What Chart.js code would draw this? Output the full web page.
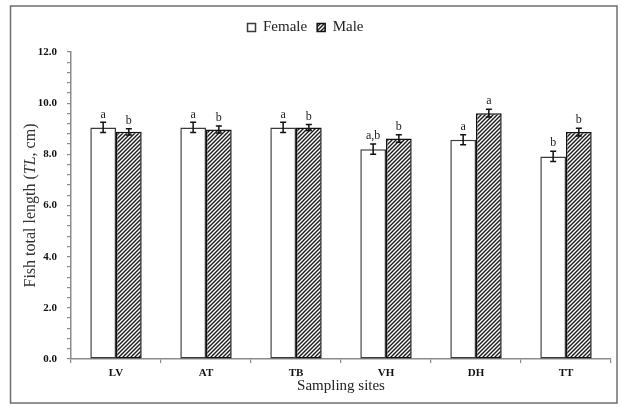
<!DOCTYPE html>
<html>
<head>
<meta charset="utf-8">
<script src="https://cdn.jsdelivr.net/npm/chart.js@4"></script>
<style>
  html, body { margin: 0; padding: 0; background: #fff; }
</style>
</head>
<body>
<canvas id="c" width="623" height="406"></canvas>
<script>
// ---- data ----
const sites = ["LV", "AT", "TB", "VH", "DH", "TT"];
const femaleMean = [9.05, 9.05, 9.05, 8.20, 8.57, 7.92];
const femaleErr  = [0.20, 0.20, 0.20, 0.20, 0.20, 0.20];
const maleMean   = [8.88, 8.97, 9.05, 8.62, 9.61, 8.87];
const maleErr    = [0.12, 0.14, 0.12, 0.15, 0.15, 0.15];
const femaleLetters = ["a", "a", "a", "a,b", "a", "b"];
const maleLetters   = ["b", "b", "b", "b", "a", "b"];
const errors  = [femaleErr, maleErr];
const letters = [femaleLetters, maleLetters];

const SERIF = "'Liberation Serif', 'Times New Roman', serif";

// diagonal hatch used for the male bars
function hatch() {
  let c = document.createElement("canvas");
  c.width = 4; c.height = 4;
  let g = c.getContext("2d");
  g.fillStyle = "#fff";
  g.fillRect(0, 0, 4, 4);
  g.strokeStyle = "#1a1a1a";
  g.lineWidth = 1.4;
  g.beginPath();
  g.moveTo(0, 4); g.lineTo(4, 0);
  g.moveTo(-1, 1); g.lineTo(1, -1);
  g.moveTo(3, 5); g.lineTo(5, 3);
  g.stroke();
  return g.createPattern(c, "repeat");
}

// outer frame of the figure
const framePlugin = {
  id: "frame",
  beforeDraw(chart) {
    let ctx = chart.ctx;
    ctx.save();
    ctx.fillStyle = "#fff";
    ctx.fillRect(0, 0, chart.width, chart.height);
    ctx.strokeStyle = "#6e6e6e";
    ctx.lineWidth = 1.5;
    ctx.strokeRect(10.5, 6, 606.5, 397);
    ctx.restore();
  }
};

// error bars + significance letters
const errorPlugin = {
  id: "errors",
  afterDatasetsDraw(chart) {
    let ctx = chart.ctx;
    let y = chart.scales.y;
    ctx.save();
    chart.data.datasets.forEach((ds, di) => {
      let meta = chart.getDatasetMeta(di);
      meta.data.forEach((bar, i) => {
        let v = ds.data[i];
        let e = errors[di][i];
        let top = y.getPixelForValue(v + e);
        let bot = y.getPixelForValue(v - e);
        let x = bar.x;
        ctx.strokeStyle = "#111";
        ctx.lineWidth = 1.5;
        ctx.beginPath();
        ctx.moveTo(x, top); ctx.lineTo(x, bot);
        ctx.moveTo(x - 3, top); ctx.lineTo(x + 3, top);
        ctx.moveTo(x - 3, bot); ctx.lineTo(x + 3, bot);
        ctx.stroke();

        ctx.fillStyle = "#222";
        ctx.font = "12px " + SERIF;
        ctx.textAlign = "center";
        ctx.textBaseline = "bottom";
        ctx.fillText(letters[di][i], x, top - 2);
      });
    });
    ctx.restore();
  }
};

// y axis title with italic TL
const yTitlePlugin = {
  id: "yTitle",
  afterDraw(chart) {
    let ctx = chart.ctx;
    let area = chart.chartArea;
    let parts = [
      ["Fish total length (", "16px " + SERIF],
      ["TL", "italic 16px " + SERIF],
      [", cm)", "16px " + SERIF]
    ];
    ctx.save();
    let total = 0;
    parts.forEach(p => { ctx.font = p[1]; total += ctx.measureText(p[0]).width; });
    ctx.translate(31, (area.top + area.bottom) / 2);
    ctx.rotate(-Math.PI / 2);
    ctx.fillStyle = "#333";
    ctx.textBaseline = "middle";
    ctx.textAlign = "left";
    let x = -total / 2;
    parts.forEach(p => {
      ctx.font = p[1];
      ctx.fillText(p[0], x, 0);
      x += ctx.measureText(p[0]).width;
    });
    ctx.restore();
  }
};

// push the plot down a bit under the legend
const legendGap = {
  id: "legendGap",
  beforeInit(chart) {
    let fit = chart.legend.fit;
    chart.legend.fit = function () {
      fit.bind(chart.legend)();
      this.height += 7;
    };
  }
};

let ctx = document.getElementById("c").getContext("2d");

let chart = new Chart(ctx, {
  type: "bar",
  data: {
    labels: sites,
    datasets: [
      {
        label: "Female",
        data: femaleMean,
        backgroundColor: "#fff",
        borderColor: "#3a3a3a",
        borderWidth: 1.5,
        borderSkipped: false
      },
      {
        label: "Male",
        data: maleMean,
        backgroundColor: hatch(),
        borderColor: "#111",
        borderWidth: 1.5,
        borderSkipped: false
      }
    ]
  },
  options: {
    responsive: false,
    animation: false,
    devicePixelRatio: 1,
    categoryPercentage: 0.571,
    barPercentage: 1.0,
    layout: { padding: { top: 10, right: 12, bottom: 0, left: 0 } },
    plugins: {
      tooltip: { enabled: false },
      legend: {
        position: "top",
        labels: {
          boxWidth: 8,
          boxHeight: 8,
          padding: 10,
          color: "#222",
          font: { family: SERIF, size: 15 }
        }
      }
    },
    scales: {
      x: {
        grid: { drawOnChartArea: false, tickLength: 4, color: "#8c8c8c", lineWidth: 1.2 },
        border: { color: "#8c8c8c", width: 1.5 },
        ticks: { color: "#111", padding: 4, font: { family: SERIF, size: 11, weight: "bold" } },
        title: {
          display: true,
          text: "Sampling sites",
          color: "#222",
          font: { family: SERIF, size: 15 },
          padding: { top: 0, bottom: 11 }
        },
        afterFit(scale) { scale.height = 47; }
      },
      y: {
        min: 0,
        max: 12,
        grid: { drawOnChartArea: false, tickLength: 4, color: "#8c8c8c", lineWidth: 1.2 },
        border: { color: "#8c8c8c", width: 1.5 },
        ticks: {
          stepSize: 0.4,
          autoSkip: false,
          padding: 10,
          color: "#111",
          font: { family: SERIF, size: 11, weight: "bold" },
          callback: function (value) {
            let r = Math.round(value * 10);
            return r % 20 === 0 ? (r / 10).toFixed(1) : "";
          }
        },
        afterFit(scale) { scale.width = 71; }
      }
    }
  },
  plugins: [legendGap, framePlugin, errorPlugin, yTitlePlugin]
});
</script>
</body>
</html>
